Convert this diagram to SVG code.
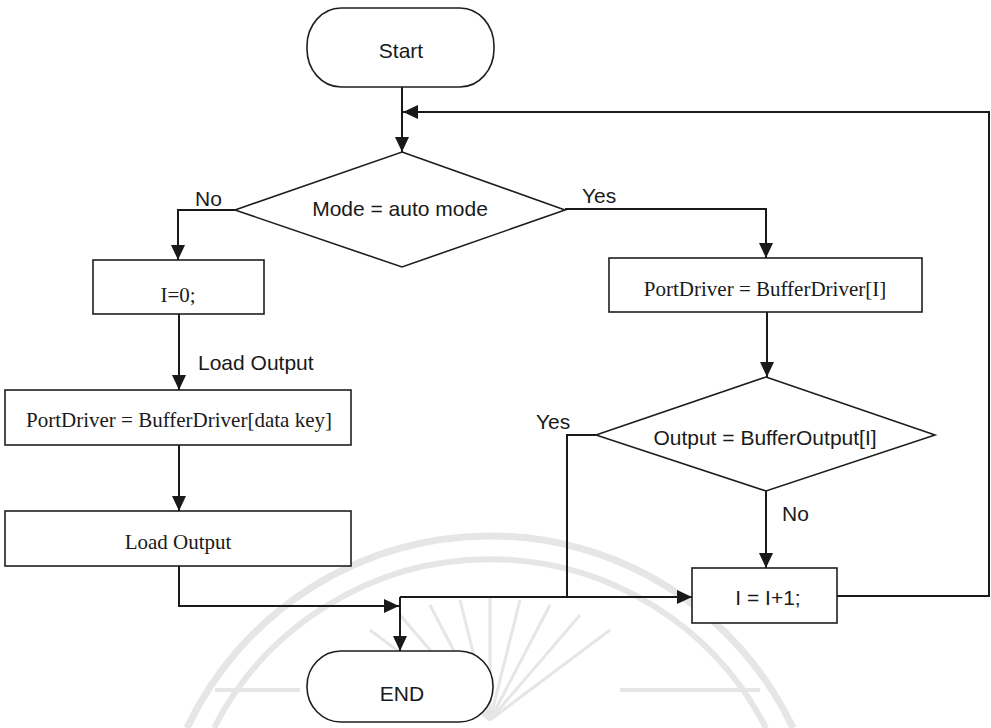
<svg xmlns="http://www.w3.org/2000/svg" width="991" height="728" viewBox="0 0 991 728">
  <defs>
    <marker id="arrow" markerUnits="userSpaceOnUse" markerWidth="16" markerHeight="14" refX="15" refY="7" orient="auto">
      <path d="M0,0 L15,7 L0,14 z" fill="#1a1a1a"/>
    </marker>
    <style>
      .wm { fill: none; stroke: #e6e6e6; }
      .shape { fill: #fff; stroke: #1e1e1e; stroke-width: 1.6; }
      .wire { fill: none; stroke: #1a1a1a; stroke-width: 2; }
      .sans { font-family: "Liberation Sans", Arial, sans-serif; font-size: 21px; fill: #1a1a1a; }
      .serif { font-family: "Liberation Serif", "Times New Roman", serif; font-size: 21px; fill: #1a1a1a; }
      .mid { text-anchor: middle; }
    </style>
  </defs>

  <rect width="991" height="728" fill="#fff"/>

  <!-- faint seal in the background -->
  <g id="seal" class="wm">
    <path d="M187,728 A335,335 0 0 1 793,728" stroke-width="7"/>
    <path d="M214,728 A310,310 0 0 1 766,728" stroke-width="6"/>
    <g stroke-width="3">
      <line x1="490" y1="720" x2="400" y2="615"/>
      <line x1="490" y1="720" x2="430" y2="605"/>
      <line x1="490" y1="720" x2="460" y2="600"/>
      <line x1="490" y1="720" x2="490" y2="598"/>
      <line x1="490" y1="720" x2="520" y2="600"/>
      <line x1="490" y1="720" x2="550" y2="605"/>
      <line x1="490" y1="720" x2="580" y2="615"/>
      <line x1="490" y1="720" x2="610" y2="630"/>
      <line x1="490" y1="720" x2="370" y2="630"/>
    </g>
    <g stroke-width="4">
      <line x1="215" y1="690" x2="300" y2="690"/>
      <line x1="620" y1="690" x2="760" y2="690"/>
    </g>
  </g>

  <!-- connectors -->
  <g id="connectors" class="wire">
    <path d="M402,87 V152" marker-end="url(#arrow)"/>
    <path d="M837,596 H989 V112 H403" marker-end="url(#arrow)"/>
    <path d="M235,210 H178 V260" marker-end="url(#arrow)"/>
    <path d="M565,209 H766 V258" marker-end="url(#arrow)"/>
    <path d="M179,314 V390" marker-end="url(#arrow)"/>
    <path d="M179,445 V511" marker-end="url(#arrow)"/>
    <path d="M179,566 V606 H399" marker-end="url(#arrow)"/>
    <path d="M400,597 H692" marker-end="url(#arrow)"/>
    <path d="M400,597 V651" marker-end="url(#arrow)"/>
    <path d="M596,435 H567 V597"/>
    <path d="M767,312 V377" marker-end="url(#arrow)"/>
    <path d="M766,491 V568" marker-end="url(#arrow)"/>
  </g>

  <!-- edge labels -->
  <g id="labels" class="sans">
    <text x="195" y="206">No</text>
    <text x="582" y="203">Yes</text>
    <text x="198" y="370">Load Output</text>
    <text x="536" y="429">Yes</text>
    <text x="782" y="521">No</text>
  </g>

  <g id="start">
    <rect class="shape" x="307" y="8" width="187" height="79" rx="34" ry="38"/>
    <text class="sans mid" x="401" y="58">Start</text>
  </g>

  <g id="mode-check">
    <polygon class="shape" points="402,152 565,210 402,267 235,210"/>
    <text class="sans mid" x="400" y="216">Mode = auto mode</text>
  </g>

  <g id="reset-index">
    <rect class="shape" x="93" y="260" width="171" height="54"/>
    <text class="serif mid" x="178" y="302">I=0;</text>
  </g>

  <g id="driver-from-key">
    <rect class="shape" x="5" y="390" width="346" height="55"/>
    <text class="serif mid" x="179" y="427">PortDriver = BufferDriver[data key]</text>
  </g>

  <g id="load-output">
    <rect class="shape" x="5" y="511" width="346" height="55"/>
    <text class="serif mid" x="178" y="549">Load Output</text>
  </g>

  <g id="driver-from-index">
    <rect class="shape" x="609" y="258" width="313" height="54"/>
    <text class="serif mid" x="765" y="296">PortDriver = BufferDriver[I]</text>
  </g>

  <g id="output-check">
    <polygon class="shape" points="766,377 935,435 766,491 596,435"/>
    <text class="sans mid" x="765" y="445">Output = BufferOutput[I]</text>
  </g>

  <g id="increment">
    <rect class="shape" x="692" y="568" width="145" height="55"/>
    <text class="sans mid" x="768" y="605">I = I+1;</text>
  </g>

  <g id="end">
    <rect class="shape" x="307" y="651" width="186" height="71" rx="34" ry="35"/>
    <text class="sans mid" x="402" y="701">END</text>
  </g>
</svg>
